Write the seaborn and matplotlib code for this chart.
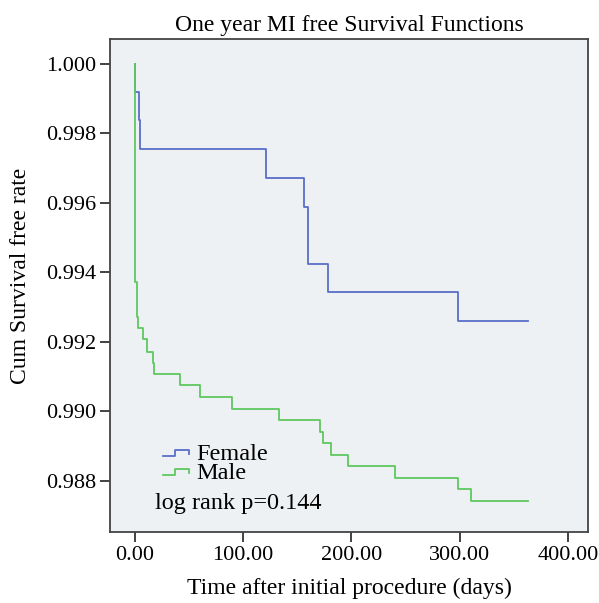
import numpy as np
import pandas as pd
import seaborn as sns
import matplotlib.pyplot as plt
from matplotlib.lines import Line2D
from matplotlib.legend_handler import HandlerBase

plt.rcParams['font.family'] = 'serif'
plt.rcParams['font.serif'] = ['Liberation Serif', 'DejaVu Serif']
plt.rcParams['font.size'] = 16

# Kaplan-Meier step points
female_days = [0, 0, 3.7, 4.3, 121.3, 156.2, 160.2, 178.4, 298.8, 363.0]
female_surv = [1.0, 0.99919, 0.99839, 0.99755, 0.99672, 0.99588, 0.99425,
               0.99343, 0.99261, 0.99261]
male_days = [0, 0.5, 1.6, 3.1, 7.7, 10.8, 16.4, 17.6, 41.7, 60.2, 90.1, 132.7,
             171.3, 173.8, 181.2, 197.2, 240.1, 298.8, 310.8, 363.2]
male_surv = [1.0, 0.99373, 0.99272, 0.99240, 0.99208, 0.99171, 0.99140,
             0.99107, 0.99074, 0.99040, 0.99006, 0.98974, 0.98941, 0.98909,
             0.98875, 0.98841, 0.98808, 0.98776, 0.98742, 0.98742]
groups = ['Female', 'Male']
colors = {'Female': '#5a6ec8', 'Male': '#5fc85f'}
x_ticks = [0, 100, 200, 300, 400]
y_ticks = [0.988, 0.990, 0.992, 0.994, 0.996, 0.998, 1.000]

df = pd.concat([
    pd.DataFrame({'days': female_days, 'surv': female_surv, 'sex': 'Female'}),
    pd.DataFrame({'days': male_days, 'surv': male_surv, 'sex': 'Male'}),
])


class StepHandler(HandlerBase):
    # little step glyph like the SPSS legend
    def create_artists(self, legend, orig_handle, xdescent, ydescent,
                       width, height, fontsize, trans):
        xs = np.array([0, 0.45, 0.45, 1.0, 1.0]) * width - xdescent
        ys = np.array([0.2, 0.2, 0.6, 0.6, 0.35]) * height - ydescent
        ln = Line2D(xs, ys, color=orig_handle.get_color(), lw=1.3,
                    transform=trans)
        return [ln]


fig = plt.figure(figsize=(5.99, 6.03), dpi=100)
ax = fig.add_axes([0.1836, 0.1178, 0.798, 0.8175])
ax.set_facecolor('#eef1f3')

sns.lineplot(data=df, x='days', y='surv', hue='sex', palette=colors,
             estimator=None, sort=False, drawstyle='steps-post', lw=1.3,
             legend=False, ax=ax)

ax.set_xlim(-23, 418.5)
ax.set_ylim(0.98652, 1.00072)
ax.set_xticks(x_ticks)
ax.set_xticklabels(['%.2f' % v for v in x_ticks])
ax.set_yticks(y_ticks)
ax.set_yticklabels(['%.3f' % v for v in y_ticks])
ax.tick_params(direction='out', length=7, width=1.2, color='#222222', pad=3)
for s in ax.spines.values():
    s.set_color('#444444')
    s.set_linewidth(1.3)

ax.set_title('One year MI free Survival Functions', fontsize=17, pad=6)
ax.set_xlabel('Time after initial procedure (days)', fontsize=17)
ax.set_ylabel('Cum Survival free rate', fontsize=17)
ax.xaxis.set_label_coords(0.5, -0.092)
ax.yaxis.set_label_coords(-0.166, 0.52)

handles = [Line2D([], [], color=colors[g]) for g in groups]
ax.legend(handles, groups, handler_map={Line2D: StepHandler()},
          loc='upper left', bbox_to_anchor=(0.111, 0.181), frameon=False,
          borderpad=0, borderaxespad=0, labelspacing=-0.12,
          handlelength=1.05, handletextpad=0.33, fontsize=17.5)
ax.text(0.094, 0.047, 'log rank p=0.144', transform=ax.transAxes,
        fontsize=17.5, va='baseline')

fig.savefig('out.png', dpi=100)
